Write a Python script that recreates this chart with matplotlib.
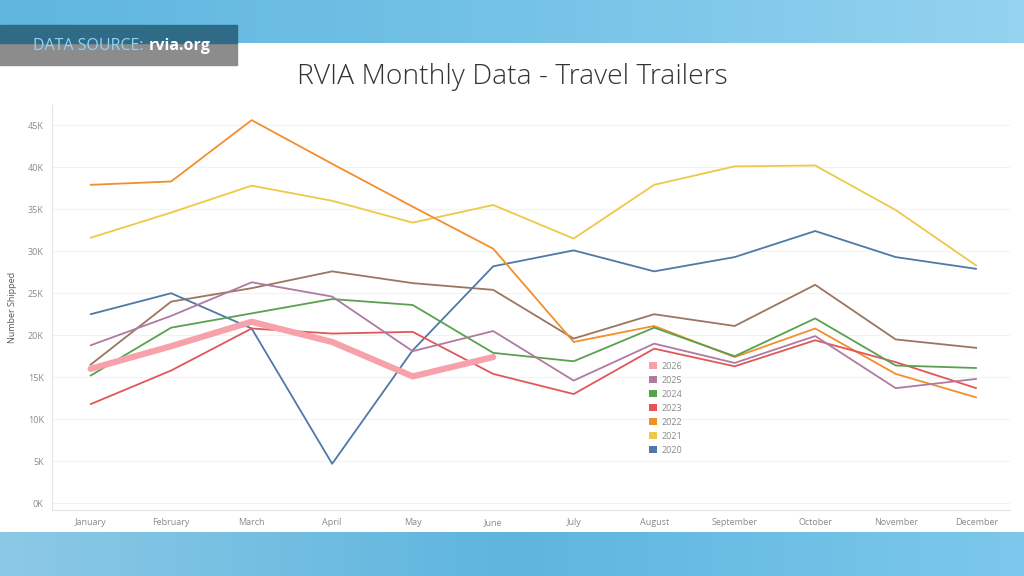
import numpy as np
import matplotlib.pyplot as plt
from matplotlib.colors import LinearSegmentedColormap
from matplotlib.patches import Rectangle, Patch

# Data (thousands of units shipped)
months = ['January', 'February', 'March', 'April', 'May', 'June', 'July',
          'August', 'September', 'October', 'November', 'December']
y2026 = [16.0, 18.7, 21.6, 19.2, 15.1, 17.4]
y2025 = [18.8, 22.3, 26.3, 24.6, 18.1, 20.5, 14.6, 19.0, 16.7, 19.9, 13.7, 14.8]
y2024 = [15.2, 20.9, 22.6, 24.3, 23.6, 17.9, 16.9, 20.9, 17.5, 22.0, 16.4, 16.1]
y2023 = [11.8, 15.8, 20.8, 20.2, 20.4, 15.4, 13.0, 18.4, 16.3, 19.4, 16.8, 13.7]
y2022 = [37.9, 38.3, 45.6, 40.4, 35.3, 30.3, 19.2, 21.1, 17.4, 20.8, 15.4, 12.6]
y2021 = [31.6, 34.6, 37.8, 36.0, 33.4, 35.5, 31.5, 37.9, 40.1, 40.2, 34.9, 28.3]
y2020 = [22.5, 25.0, 20.8, 4.7, 18.2, 28.2, 30.1, 27.6, 29.3, 32.4, 29.3, 27.9]
y2019 = [16.5, 24.0, 25.6, 27.6, 26.2, 25.4, 19.6, 22.5, 21.1, 26.0, 19.5, 18.5]

series = [
    ('2026', y2026, '#f7a1ab'),
    ('2025', y2025, '#b07aa1'),
    ('2024', y2024, '#59a14f'),
    ('2023', y2023, '#e15759'),
    ('2022', y2022, '#f28e2b'),
    ('2021', y2021, '#edc948'),
    ('2020', y2020, '#4e79a7'),
]

plt.rcParams['font.family'] = ['Open Sans', 'DejaVu Sans']

fig = plt.figure(figsize=(10.24, 5.76), dpi=100)
fig.patch.set_facecolor('white')

# blue banner bands top and bottom
bg = fig.add_axes([0, 0, 1, 1], zorder=-10)
bg.axis('off')
grad = np.linspace(0, 1, 256).reshape(1, -1)
bg.imshow(grad, extent=(0, 1, 1 - 43 / 576, 1), aspect='auto',
          cmap=LinearSegmentedColormap.from_list('b', ['#5fb6de', '#74c2e7', '#95d3f0']))
bg.imshow(grad, extent=(0, 1, 0, 44 / 576), aspect='auto',
          cmap=LinearSegmentedColormap.from_list('b2', ['#8cc9e6', '#5db5de', '#7cc8ec']))
# source box
bg.add_patch(Rectangle((0, 1 - 65 / 576), 237 / 1024, 22 / 576,
                       color='#8c8c8c', zorder=2))
bg.add_patch(Rectangle((0, 1 - 43 / 576), 237 / 1024, 18 / 576,
                       color='#2f6a86', zorder=2))
bg.set_xlim(0, 1)
bg.set_ylim(0, 1)
fig.text(33 / 1024, 1 - 46 / 576, 'DATA SOURCE:', color='#8fd4f2',
         fontsize=11.5, va='center', ha='left')
fig.text(149 / 1024, 1 - 46 / 576, 'rvia.org', color='white',
         fontsize=11.5, fontweight='bold', va='center', ha='left')

fig.text(512 / 1024, 1 - 77 / 576, 'RVIA Monthly Data - Travel Trailers',
         fontsize=20.3, fontweight='light', color='#333333', ha='center', va='center')

ax = fig.add_axes([52 / 1024, 66 / 576, 958 / 1024, 405 / 576])
x = np.arange(len(months))

ax.plot(x, y2019, color='#9c755f', lw=1.3, zorder=2)
for name, vals, col in series[::-1]:
    lw = 4.5 if name == '2026' else 1.3
    ax.plot(x[:len(vals)], vals, color=col, lw=lw, zorder=4 if name == '2026' else 2,
            solid_capstyle='round')

ax.set_xlim(-0.48, 11.42)
ax.set_ylim(-0.8, 47.4)
ax.set_yticks(np.arange(0, 50, 5))
ax.set_yticklabels([f'{v}K' for v in range(0, 50, 5)])
ax.set_xticks(x)
ax.set_xticklabels(months)
ax.tick_params(axis='both', length=0, labelsize=6.5, labelcolor='#8a8a8a')
ax.tick_params(axis='y', pad=6)
ax.tick_params(axis='x', pad=6)
ax.grid(axis='y', color='#f2f2f2', lw=0.8)
ax.set_axisbelow(True)
for s in ['top', 'right']:
    ax.spines[s].set_visible(False)
for s in ['left', 'bottom']:
    ax.spines[s].set_color('#e6e6e6')
ax.set_ylabel('Number Shipped', fontsize=6.5, color='#555555', labelpad=8)

handles = [Patch(facecolor=c, label=n) for n, _, c in series]
ax.legend(handles=handles, loc='upper left', bbox_to_anchor=(0.619, 0.375),
          frameon=False, fontsize=6.5, labelcolor='#8a8a8a',
          handlelength=0.9, handleheight=0.9, handletextpad=0.5,
          labelspacing=0.55, borderaxespad=0)

fig.savefig('out.png', dpi=100)
